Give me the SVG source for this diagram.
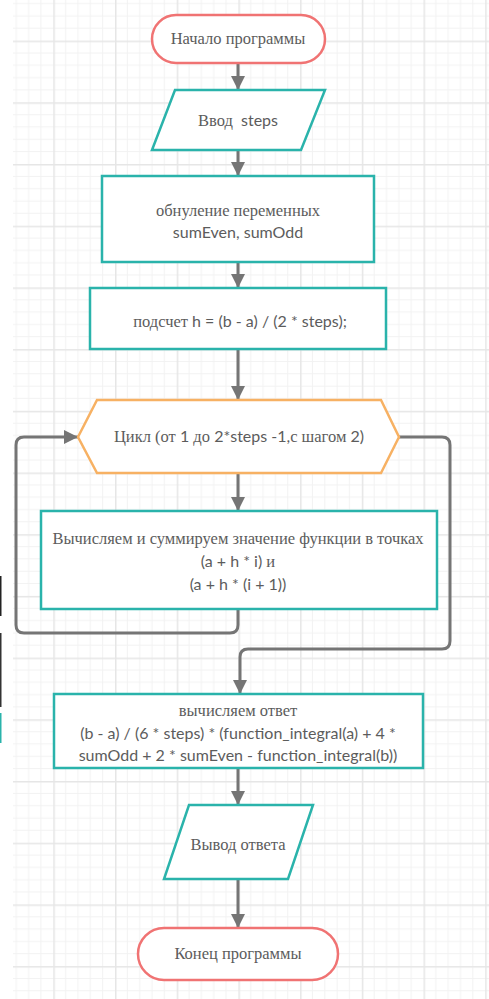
<svg xmlns="http://www.w3.org/2000/svg" width="489" height="999" viewBox="0 0 489 999">
<defs>
<pattern id="grid" patternUnits="userSpaceOnUse" x="53.3" y="40.6" width="61.7" height="61.7">
<g stroke="#f2f2f2" stroke-width="1">
<path d="M12.34 0V61.7M24.68 0V61.7M37.02 0V61.7M49.36 0V61.7M0 12.34H61.7M0 24.68H61.7M0 37.02H61.7M0 49.36H61.7"/>
</g>
<path d="M0.75 0V61.7M0 0.75H61.7" stroke="#e6e6e6" stroke-width="1.5"/>
</pattern>
<marker id="ah" markerUnits="userSpaceOnUse" markerWidth="16" markerHeight="14" refX="14" refY="7" orient="auto">
<path d="M0 0L14 7L0 14Z" fill="#757575"/>
</marker>
<style>
.term{fill:#fff;stroke:#f07373;stroke-width:2.5}
.io,.proc{fill:#fff;stroke:#2ab3ab;stroke-width:2.5}
.loop{fill:#fff;stroke:#f7b163;stroke-width:2.5}
.conn{fill:none;stroke:#757575;stroke-width:3;marker-end:url(#ah)}
.t{font-family:"Liberation Serif","Times New Roman",serif;font-size:16.5px;fill:#5c5c5c;text-anchor:middle}
.l{font-family:Lato,"Open Sans",sans-serif;font-size:16px}
</style>
</defs>
<rect width="489" height="999" fill="#fff"/>
<rect x="13" y="0" width="476" height="999" fill="url(#grid)"/>
<g id="artifacts">
<rect x="0" y="576" width="1.5" height="40" fill="#222"/>
<rect x="0" y="633" width="1.5" height="74" fill="#333"/>
<rect x="0" y="713" width="1.5" height="30" fill="#2ab3ab"/>
</g>
<g id="connectors">
<path class="conn" d="M238 63V90"/>
<path class="conn" d="M238 150V176"/>
<path class="conn" d="M238 262V288"/>
<path class="conn" d="M238 349V400"/>
<path class="conn" d="M238 473V511"/>
<path class="conn" d="M238 609V625Q238 633 230 633H24Q16 633 16 625V445Q16 437 24 437H78"/>
<path class="conn" d="M399 437H442Q450 437 450 445V641Q450 649 442 649H248Q240 649 240 657V694"/>
<path class="conn" d="M238 768V805"/>
<path class="conn" d="M238 879V928"/>
</g>
<g id="start">
<rect class="term" x="152" y="15" width="173" height="48" rx="24"/>
<text class="t" x="238" y="44">Начало программы</text>
</g>
<g id="input">
<polygon class="io" points="175,90 325,90 301,150 152,150"/>
<text class="t" x="238" y="126">Ввод&#160;<tspan class="l"> steps</tspan></text>
</g>
<g id="init">
<rect class="proc" x="102" y="176" width="272" height="86"/>
<text class="t" x="238" y="216">обнуление переменных</text>
<text class="t l" x="238" y="238">sumEven, sumOdd</text>
</g>
<g id="calc-h">
<rect class="proc" x="90" y="288" width="296" height="61"/>
<text class="t" x="240" y="327">подсчет <tspan class="l">h = (b - a) / (2 * steps);</tspan></text>
</g>
<g id="loop">
<polygon class="loop" points="78,437 97,400 381,400 399,437 381,473 97,473"/>
<text class="t" x="239" y="442">Цикл (от <tspan class="l">1</tspan> до <tspan class="l">2*steps -1,</tspan>с шагом <tspan class="l">2)</tspan></text>
</g>
<g id="body">
<rect class="proc" x="41" y="511" width="396" height="98"/>
<text class="t" x="238" y="544">Вычисляем и суммируем значение функции в точках</text>
<text class="t" x="238" y="567"><tspan class="l">(a + h * i) </tspan>и</text>
<text class="t l" x="238" y="590">(a + h * (i + 1))</text>
</g>
<g id="answer">
<rect class="proc" x="54" y="694" width="369" height="74"/>
<text class="t" x="238" y="716">вычисляем ответ</text>
<text class="t l" x="238" y="739">(b - a) / (6 * steps) * (function_integral(a) + 4 *</text>
<text class="t l" x="238" y="761">sumOdd + 2 * sumEven - function_integral(b))</text>
</g>
<g id="output">
<polygon class="io" points="189,805 313,805 288,879 164,879"/>
<text class="t" x="238" y="850">Вывод ответа</text>
</g>
<g id="end">
<rect class="term" x="138" y="928" width="200" height="52" rx="26"/>
<text class="t" x="238" y="959">Конец программы</text>
</g>
</svg>
